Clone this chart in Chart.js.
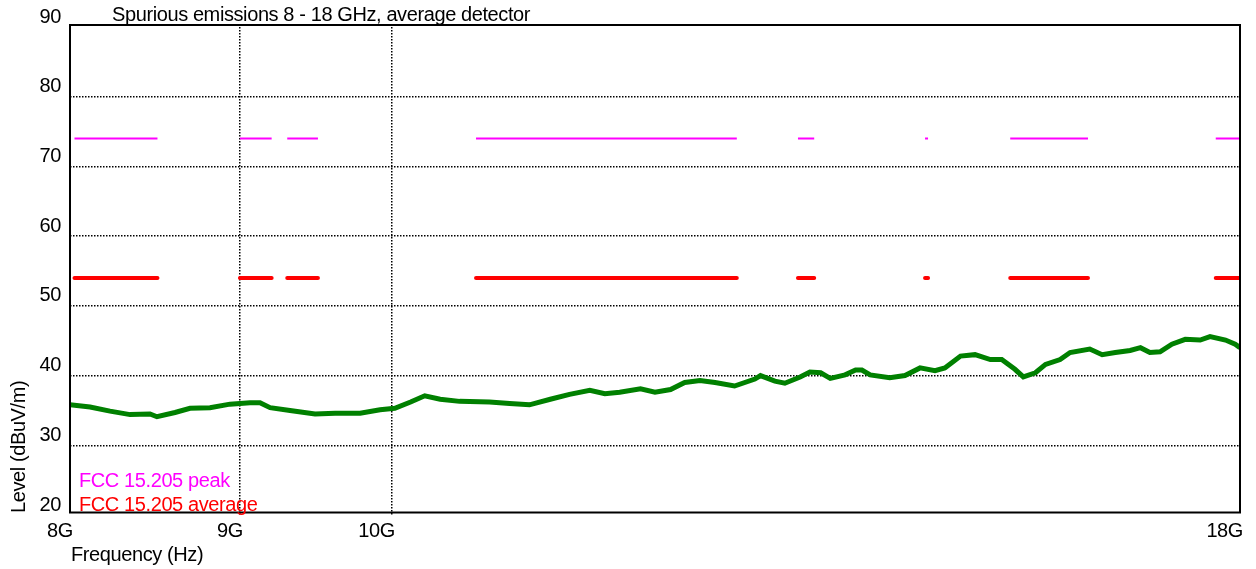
<!DOCTYPE html>
<html>
<head>
<meta charset="utf-8">
<title>Spurious emissions 8 - 18 GHz</title>
<script src="https://cdn.jsdelivr.net/npm/chart.js@4"></script>
<style>
  html, body { margin: 0; padding: 0; background: #fff; }
  #wrap { width: 1256px; height: 569px; position: relative; }
</style>
</head>
<body>
<div id="wrap"><canvas id="chart"></canvas></div>
<script>
// frequency axis (GHz) and tick labels
const xTickValues = [8, 9, 10, 18];
const yMin = 20, yMax = 90, yStep = 10;

// measured trace, average detector
const traceFreqGHz = [
  8.000, 8.112, 8.225, 8.340, 8.456, 8.497, 8.604, 8.694, 8.815, 8.938,
  9.063, 9.126, 9.190, 9.318, 9.481, 9.614, 9.782, 9.918, 10.02, 10.13,
  10.23, 10.34, 10.48, 10.70, 10.85, 11.00, 11.16, 11.31, 11.47, 11.59,
  11.71, 11.88, 12.00, 12.13, 12.25, 12.38, 12.51, 12.68, 12.86, 12.91,
  13.04, 13.13, 13.27, 13.36, 13.46, 13.55, 13.69, 13.79, 13.85, 13.93,
  14.12, 14.27, 14.42, 14.57, 14.67, 14.83, 14.98, 15.14, 15.26, 15.40,
  15.49, 15.62, 15.73, 15.89, 16.00, 16.22, 16.36, 16.51, 16.68, 16.80,
  16.91, 17.03, 17.17, 17.33, 17.51, 17.63, 17.82, 17.94, 18.00
];
const traceLevel = [
  35.8, 35.5, 34.9, 34.4, 34.5, 34.1, 34.7, 35.3, 35.4, 35.9,
  36.1, 36.1, 35.4, 35.0, 34.5, 34.6, 34.6, 35.1, 35.3, 36.2,
  37.1, 36.6, 36.3, 36.2, 36.0, 35.8, 36.6, 37.3, 37.9, 37.4,
  37.6, 38.1, 37.6, 38.0, 39.0, 39.3, 39.0, 38.5, 39.5, 40.0,
  39.2, 38.9, 39.8, 40.5, 40.4, 39.6, 40.1, 40.8, 40.8, 40.1,
  39.7, 40.0, 41.1, 40.7, 41.1, 42.8, 43.0, 42.3, 42.3, 40.9,
  39.8, 40.4, 41.6, 42.3, 43.3, 43.8, 43.0, 43.3, 43.6, 44.0,
  43.3, 43.4, 44.5, 45.2, 45.1, 45.6, 45.1, 44.5, 44.0
];

// FCC 15.205 restricted bands inside 8 - 18 GHz
const bandStart = [8.025, 9.0, 9.3, 10.6, 13.25, 14.47, 15.35, 17.7];
const bandEnd   = [8.5,   9.2, 9.5, 12.7, 13.4,  14.5,  16.2,  18.0];
const peakLimit = 74;
const avgLimit = 54;

// limit segments with a gap between bands
const limitData = (level) => {
  const pts = [];
  bandStart.forEach((s, i) => {
    pts.push({ x: s, y: level }, { x: bandEnd[i], y: level });
    if (i < bandStart.length - 1) pts.push({ x: (bandEnd[i] + bandStart[i + 1]) / 2, y: null });
  });
  return pts;
};

const FONT = "'Liberation Sans', Arial, sans-serif";

// no dotted grid line on the frame edges
const innerGrid = (min, max) => (ctx) => {
  const v = ctx.tick && ctx.tick.value;
  return (v === min || v === max) ? 'rgba(0,0,0,0)' : '#000';
};

const framePlugin = {
  id: 'frame',
  beforeDraw(chart) {
    chart.ctx.letterSpacing = '-0.4px';
  },
  afterDraw(chart) {
    const { ctx, chartArea: a } = chart;
    ctx.save();
    ctx.letterSpacing = '-0.4px';
    // frame
    ctx.strokeStyle = '#000';
    ctx.lineWidth = 2;
    ctx.strokeRect(a.left, a.top - 2, a.right - a.left, a.bottom - a.top - 0.5);
    // title
    ctx.font = '20px ' + FONT;
    ctx.textBaseline = 'alphabetic';
    ctx.textAlign = 'left';
    ctx.fillStyle = '#000';
    ctx.fillText('Spurious emissions 8 - 18 GHz, average detector', 112, 21);
    // x axis title
    ctx.fillText('Frequency (Hz)', 71, 561);
    // legend
    ctx.fillStyle = '#ff00ff';
    ctx.fillText('FCC 15.205 peak', 79, 487);
    ctx.fillStyle = '#ff0000';
    ctx.fillText('FCC 15.205 average', 79, 511);
    // y axis title
    ctx.fillStyle = '#000';
    ctx.translate(25, 513);
    ctx.rotate(-Math.PI / 2);
    ctx.fillText('Level (dBuV/m)', 0, 0);
    ctx.restore();
  }
};

new Chart(document.getElementById('chart').getContext('2d'), {
  type: 'line',
  data: {
    datasets: [
      {
        label: 'Average',
        data: traceFreqGHz.map((f, i) => ({ x: f, y: traceLevel[i] })),
        borderColor: '#008000',
        borderWidth: 5,
        pointRadius: 0,
        tension: 0
      },
      {
        label: 'FCC 15.205 peak',
        data: limitData(peakLimit),
        borderColor: '#ff00ff',
        borderWidth: 2,
        pointRadius: 0,
        spanGaps: false
      },
      {
        label: 'FCC 15.205 average',
        data: limitData(avgLimit),
        borderColor: '#ff0000',
        borderWidth: 4,
        borderCapStyle: 'round',
        pointRadius: 0,
        spanGaps: false
      }
    ]
  },
  options: {
    responsive: true,
    maintainAspectRatio: false,
    animation: false,
    layout: { padding: { left: 0, top: 27, right: 16, bottom: 0 } },
    plugins: {
      legend: { display: false },
      title: { display: false },
      tooltip: { enabled: false }
    },
    scales: {
      x: {
        type: 'logarithmic',
        min: 8,
        max: 18,
        afterBuildTicks: (scale) => { scale.ticks = xTickValues.map(v => ({ value: v })); },
        afterFit: (scale) => { scale.height = 54; },
        grid: { color: innerGrid(8, 18), lineWidth: 1.5, drawTicks: false },
        border: { display: false, dash: [1.5, 1.5] },
        ticks: {
          autoSkip: false,
          maxRotation: 0,
          align: 'end',
          labelOffset: 3,
          padding: 4,
          color: '#000',
          font: { family: FONT, size: 20 },
          callback: (v) => v + 'G'
        }
      },
      y: {
        min: yMin,
        max: yMax,
        afterFit: (scale) => { scale.width = 70; },
        grid: { color: innerGrid(yMin, yMax), lineWidth: 1.5, drawTicks: false },
        border: { display: false, dash: [1.5, 1.5] },
        ticks: {
          stepSize: yStep,
          padding: 9,
          labelOffset: -10,
          color: '#000',
          font: { family: FONT, size: 20 }
        }
      }
    }
  },
  plugins: [framePlugin]
});
</script>
</body>
</html>
